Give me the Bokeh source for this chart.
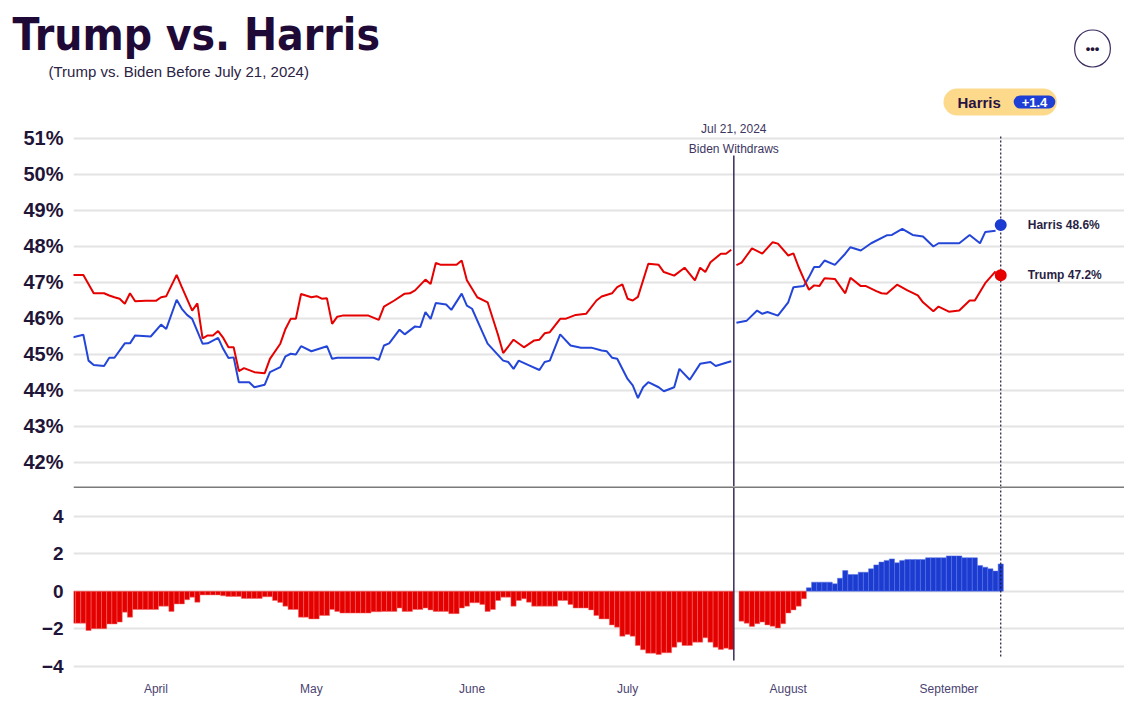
import pandas as pd
from bokeh.plotting import figure
from bokeh.layouts import column
from bokeh.models import (Range1d, FixedTicker, PrintfTickFormatter, DatetimeTickFormatter,
                          Label, Span, ColumnDataSource)
from bokeh.embed import file_html
from bokeh.resources import INLINE

# ---------------- data ----------------
START = "2024-03-16"          # day 0
EVENT = "2024-07-21 12:00"    # Biden withdraws
LAST = "2024-09-11"           # latest polling day
EVENT_LABEL = ["Jul 21, 2024", "Biden Withdraws"]

# Trump vs. Biden (before Jul 21): day offsets from START and values (%)
trump_pre_day = [0, 2, 4, 6, 7, 8, 9, 10, 11, 12, 14, 16, 17, 18, 20, 21, 23, 24, 25, 26,
                 27, 28, 29, 30, 31, 32, 33, 35, 37, 38, 40, 41, 42, 43, 44, 46, 47, 48, 49, 50,
                 51, 52, 57, 59, 60, 62, 64, 65, 66, 68, 69, 70, 71, 74, 75, 76, 78, 80, 81, 82,
                 83, 85, 87, 89, 90, 91, 92, 94, 95, 97, 99, 101, 102, 104, 105, 106, 107, 108, 109, 111,
                 113, 114, 116, 118, 120, 121, 122, 123, 125, 126, 127]
trump_pre = [47.21, 47.21, 46.70, 46.70, 46.64, 46.59, 46.55, 46.41, 46.70, 46.48, 46.49, 46.49, 46.59, 46.62, 47.21, 46.87, 46.22, 46.42, 45.45, 45.53,
             45.53, 45.65, 45.46, 45.20, 45.20, 44.54, 44.62, 44.51, 44.48, 44.88, 45.30, 45.71, 45.99, 45.99, 46.68, 46.59, 46.62, 46.55, 46.56, 45.85,
             46.05, 46.08, 46.08, 45.96, 46.33, 46.50, 46.69, 46.70, 46.78, 47.08, 46.96, 47.54, 47.49, 47.49, 47.61, 47.06, 46.59, 46.45, 46.00, 45.55,
             45.04, 45.41, 45.20, 45.39, 45.41, 45.59, 45.62, 45.99, 45.99, 46.10, 46.13, 46.50, 46.61, 46.70, 46.87, 46.95, 46.55, 46.50, 46.60, 47.52,
             47.49, 47.29, 47.19, 47.41, 47.06, 47.41, 47.29, 47.56, 47.80, 47.80, 47.91]

biden_day = [0, 2, 3, 4, 6, 7, 8, 10, 11, 12, 15, 17, 18, 20, 21, 22, 23, 25, 26, 28,
             29, 30, 31, 32, 34, 35, 37, 38, 40, 41, 42, 43, 44, 46, 49, 50, 51, 58, 59, 60,
             61, 63, 64, 66, 67, 68, 69, 70, 72, 73, 75, 76, 77, 79, 80, 83, 84, 85, 86, 88,
             90, 91, 92, 94, 96, 98, 100, 102, 103, 104, 105, 107, 108, 109, 110, 111, 113, 114, 116, 117,
             119, 121, 123, 124, 126, 127]
biden = [45.48, 45.55, 44.83, 44.71, 44.68, 44.91, 44.91, 45.31, 45.31, 45.53, 45.50, 45.83, 45.71, 46.52, 46.27, 46.10, 45.99, 45.30, 45.31, 45.46,
         45.15, 44.90, 44.92, 44.23, 44.23, 44.09, 44.16, 44.51, 44.65, 44.95, 45.02, 45.00, 45.23, 45.09, 45.23, 44.88, 44.91, 44.91, 44.85, 45.25,
         45.31, 45.69, 45.56, 45.78, 45.76, 46.18, 45.99, 46.43, 46.39, 46.24, 46.69, 46.36, 46.27, 45.62, 45.30, 44.83, 44.79, 44.60, 44.83, 44.70,
         44.57, 44.79, 44.83, 45.56, 45.25, 45.19, 45.19, 45.11, 45.09, 44.91, 44.88, 44.32, 44.14, 43.79, 44.09, 44.23, 44.09, 43.98, 44.09, 44.60,
         44.30, 44.74, 44.79, 44.68, 44.77, 44.81]

# Trump vs. Harris (after Jul 21)
trump_post_day = [128, 129, 130, 131, 133, 135, 136, 138, 139, 140, 141, 142, 143, 144, 145, 147, 149, 150, 152, 153,
                  155, 156, 157, 159, 161, 163, 164, 166, 167, 169, 171, 173, 174, 176, 178]
trump_post = [47.48, 47.55, 47.75, 47.95, 47.80, 48.12, 48.08, 47.75, 47.81, 47.43, 47.10, 46.80, 46.92, 46.90, 47.12, 47.10, 46.70, 47.13, 46.90, 46.90,
              46.76, 46.70, 46.69, 46.94, 46.78, 46.64, 46.45, 46.20, 46.33, 46.19, 46.22, 46.50, 46.50, 46.98, 47.31]

harris_day = [128, 130, 132, 133, 134, 136, 138, 139, 141, 142, 143, 144, 145, 147, 149, 150, 152, 154, 157, 158,
              160, 162, 164, 166, 167, 171, 173, 175, 176, 178]
harris = [45.88, 45.94, 46.22, 46.13, 46.18, 46.08, 46.45, 46.87, 46.90, 47.15, 47.43, 47.43, 47.61, 47.49, 47.80, 47.98, 47.89, 48.09, 48.31, 48.32,
          48.49, 48.32, 48.28, 48.00, 48.09, 48.09, 48.32, 48.09, 48.40, 48.44]

harris_final = 48.6
trump_final = 47.2

# daily spread (Democrat minus Trump), starting at START; None = no value
spread = [
    -1.71, -1.71, -1.71, -2.10, -2.00, -2.00, -2.00, -1.75, -1.75, -1.65,
    -1.12, -1.39, -0.98, -0.98, -0.98, -0.98, -0.98, -0.80, -0.80, -1.08,
    -0.68, -0.68, -0.46, -0.32, -0.59, -0.20, -0.20, -0.20, -0.20, -0.25,
    -0.28, -0.28, -0.28, -0.39, -0.39, -0.39, -0.39, -0.30, -0.30, -0.50,
    -0.60, -0.80, -0.98, -0.98, -1.39, -1.39, -1.48, -1.48, -1.30, -1.30,
    -0.98, -1.08, -1.17, -1.17, -1.17, -1.17, -1.17, -1.17, -1.10, -1.10,
    -1.08, -1.08, -1.08, -0.90, -1.08, -1.08, -0.98, -0.98, -0.90, -1.00,
    -1.08, -1.08, -1.08, -1.20, -1.20, -0.90, -0.80, -0.62, -0.62, -0.71,
    -1.08, -0.98, -0.50, -0.32, -0.32, -0.80, -0.50, -0.41, -0.59, -0.80,
    -0.80, -0.80, -0.80, -0.80, -0.50, -0.50, -0.71, -0.90, -0.90, -0.90,
    -1.00, -1.30, -1.48, -1.48, -1.80, -1.92, -2.40, -2.31, -2.40, -2.90,
    -3.13, -3.31, -3.31, -3.38, -3.29, -3.29, -2.99, -2.72, -2.90, -2.90,
    -2.72, -2.72, -2.49, -2.72, -2.99, -3.11, -3.04, -3.11, None, -1.60,
    -1.71, -1.88, -1.74, -1.65, -1.80, -1.87, -1.97, -1.74, -1.17, -1.00,
    -0.80, -0.41, 0.18, 0.48, 0.48, 0.48, 0.48, 0.39, 0.69, 1.10,
    0.89, 0.89, 1.01, 1.01, 1.19, 1.40, 1.55, 1.64, 1.72, 1.51,
    1.64, 1.69, 1.69, 1.69, 1.69, 1.78, 1.78, 1.78, 1.78, 1.88,
    1.88, 1.88, 1.78, 1.78, 1.78, 1.37, 1.28, 1.19, 1.07, 1.45,
]

top_ticks = [42, 43, 44, 45, 46, 47, 48, 49, 50, 51]
bottom_ticks = [-4, -2, 0, 2, 4]
month_ticks = ["2024-04-01", "2024-05-01", "2024-06-01", "2024-07-01", "2024-08-01", "2024-09-01"]

# ---------------- styling ----------------
RED = "#e60000"
BLUE = "#2446d8"
BAR_RED = "#e50000"
BAR_BLUE = "#1b3bd1"
DARK = "#1f1538"
GRID = "#e3e3e3"
FONT = "Liberation Sans"
TITLE_FONT = "DejaVu Sans Condensed"

W = 1124
LEFT = 73
PX_PER_DAY = 5.183

t0 = pd.Timestamp(START)
def days(lst):
    return [t0 + pd.Timedelta(days=d) for d in lst]

def ms(ts):
    return pd.Timestamp(ts).value / 1e6

def make_label(pad, **kw):
    try:
        return Label(padding=dict(left=pad[0], right=pad[1], top=pad[2], bottom=pad[3]), **kw)
    except Exception:
        return Label(padding=pad[2], **kw)

x_start = t0 + pd.Timedelta(hours=2.4)
x_end = x_start + pd.Timedelta(days=(W - LEFT) / PX_PER_DAY)
xr = Range1d(start=x_start, end=x_end)

# ---------------- header (data units = page pixels, annotations only) ----------------
HH = 120
p0 = figure(width=W, height=HH, x_range=Range1d(0, W), y_range=Range1d(0, HH),
            x_axis_location=None, y_axis_location=None, output_backend="svg",
            toolbar_location=None, min_border=0)
p0.outline_line_color = None
p0.grid.visible = False
p0.add_layout(Label(x=12, y=86, text="Trump vs. Harris", text_font=TITLE_FONT,
                    text_font_size="44px", text_font_style="bold", text_color="#1f0a37",
                    text_baseline="alphabetic"))
p0.add_layout(Label(x=48, y=49, text="(Trump vs. Biden Before July 21, 2024)", text_font=FONT,
                    text_font_size="15px", text_color="#2b2244", text_baseline="alphabetic"))
# menu button
p0.add_layout(Label(x=1092, y=72, text="•••", text_font=FONT, text_font_size="13px",
                    text_font_style="bold", text_color=DARK, text_align="center",
                    text_baseline="middle", padding=11, border_radius=18,
                    border_line_color="#3b2b5e", border_line_width=1.2,
                    background_fill_color="white"))
# leader badge
leader = "Harris" if harris_final > trump_final else "Trump"
margin = abs(harris_final - trump_final)
p0.add_layout(make_label((14, 56, 5, 5), x=943, y=18.5, text=leader, text_font=FONT,
                         text_font_size="15px", text_font_style="bold", text_color="#2a1242",
                         text_baseline="middle", background_fill_color="#fcd98b",
                         border_radius=14))
p0.add_layout(make_label((8, 8, 2, 2), x=1034, y=18.5, text=f"+{margin:.1f}", text_font=FONT,
                         text_font_size="13px", text_font_style="bold", text_color="white",
                         text_align="center", text_baseline="middle",
                         background_fill_color="#1d3fd6", border_radius=9))

# ---------------- top panel ----------------
TOP_Y0, TOP_Y1 = 41.333, 51.5
p1 = figure(width=W, height=366, x_range=xr, y_range=Range1d(TOP_Y0, TOP_Y1),
            x_axis_location=None, output_backend="svg", toolbar_location=None,
            min_border_left=LEFT, min_border_right=0, min_border_top=0, min_border_bottom=0)
p1.outline_line_color = None
p1.xgrid.visible = False
p1.ygrid.grid_line_color = GRID
p1.ygrid.grid_line_width = 2

def style_y(ax, size):
    ax.axis_line_color = None
    ax.major_tick_line_color = None
    ax.minor_tick_line_color = None
    ax.major_tick_out = 0
    ax.major_tick_in = 0
    ax.minor_tick_out = 0
    ax.minor_tick_in = 0
    ax.major_label_standoff = 10
    ax.major_label_text_font = FONT
    ax.major_label_text_font_size = size
    ax.major_label_text_font_style = "bold"
    ax.major_label_text_color = DARK

ax = p1.yaxis[0]
ax.ticker = FixedTicker(ticks=top_ticks)
ax.formatter = PrintfTickFormatter(format="%d%%")
style_y(ax, "20px")

ev = pd.Timestamp(EVENT)
last = pd.Timestamp(LAST)

p1.segment(x0=[ev], y0=[TOP_Y0], x1=[ev], y1=[50.53], line_color="#3a2b5c", line_width=1.5)
p1.segment(x0=[last], y0=[TOP_Y0], x1=[last], y1=[51.08], line_color=DARK, line_width=1.2,
           line_dash="2 2")

p1.line(days(biden_day), biden, line_color=BLUE, line_width=2)
p1.line(days(trump_pre_day), trump_pre, line_color=RED, line_width=2)
p1.line(days(harris_day), harris, line_color=BLUE, line_width=2)
p1.line(days(trump_post_day), trump_post, line_color=RED, line_width=2)

p1.scatter([last], [harris_final], size=12, fill_color=BAR_BLUE, line_color=None)
p1.scatter([last], [trump_final], size=12, fill_color=RED, line_color=None)
for name, v in (("Harris", harris_final), ("Trump", trump_final)):
    p1.add_layout(Label(x=ms(last), y=v, x_offset=27, text=f"{name} {v:.1f}%", text_font=FONT,
                        text_font_size="12px", text_font_style="bold", text_color="#2a1f44",
                        text_baseline="middle"))
p1.add_layout(Label(x=ms(ev), y=358, y_units="screen", text=EVENT_LABEL[0], text_font=FONT,
                    text_font_size="12px", text_color="#3d3560", text_align="center",
                    text_baseline="middle"))
p1.add_layout(Label(x=ms(ev), y=338, y_units="screen", text=EVENT_LABEL[1], text_font=FONT,
                    text_font_size="12px", text_color="#3d3560", text_align="center",
                    text_baseline="middle"))

# ---------------- bottom panel ----------------
BOT_Y0, BOT_Y1 = -4.5, 5.58
p2 = figure(width=W, height=219, x_range=xr, y_range=Range1d(BOT_Y0, BOT_Y1),
            x_axis_type="datetime", output_backend="svg", toolbar_location=None,
            min_border_left=LEFT, min_border_right=0, min_border_top=0, min_border_bottom=30)
p2.outline_line_color = None
p2.xgrid.visible = False
p2.ygrid.grid_line_color = GRID
p2.ygrid.grid_line_width = 2
ay = p2.yaxis[0]
ay.ticker = FixedTicker(ticks=bottom_ticks)
style_y(ay, "19px")

axx = p2.xaxis[0]
axx.ticker = FixedTicker(ticks=[ms(m) for m in month_ticks])
axx.formatter = DatetimeTickFormatter(days="%B", months="%B", years="%B", hours="%B",
                                      minutes="%B", seconds="%B", milliseconds="%B",
                                      microseconds="%B", minsec="%B", hourmin="%B")
axx.axis_line_color = None
axx.major_tick_line_color = None
axx.minor_tick_line_color = None
axx.major_tick_out = 0
axx.major_tick_in = 0
axx.minor_tick_out = 0
axx.minor_tick_in = 0
axx.major_label_standoff = 6
axx.major_label_text_font = FONT
axx.major_label_text_font_size = "12px"
axx.major_label_text_color = "#4b4370"

bar_x, bar_top, bar_fill, bar_line = [], [], [], []
for i, v in enumerate(spread):
    if v is None:
        continue
    bar_x.append(t0 + pd.Timedelta(days=i))
    bar_top.append(v)
    bar_fill.append(BAR_BLUE if v > 0 else BAR_RED)
    bar_line.append("#5a74e3" if v > 0 else "#f26a6a")
src = ColumnDataSource(dict(x=bar_x, top=bar_top, fill=bar_fill, line=bar_line))
p2.vbar(x="x", top="top", bottom=0, width=86400000, fill_color="fill", line_color="line",
        line_width=0.5, source=src)

p2.segment(x0=[ev], y0=[BOT_Y1], x1=[ev], y1=[-3.7], line_color="#3a2b5c", line_width=1.5)
p2.segment(x0=[last], y0=[BOT_Y1], x1=[last], y1=[-3.55], line_color=DARK, line_width=1.2,
           line_dash="2 2")
p2.add_layout(Span(location=BOT_Y1, dimension="width", line_color="#7a7a7a", line_width=3))

layout = column(column(p0), column(p1, p2))
open("out.html", "w").write(file_html(layout, INLINE))
